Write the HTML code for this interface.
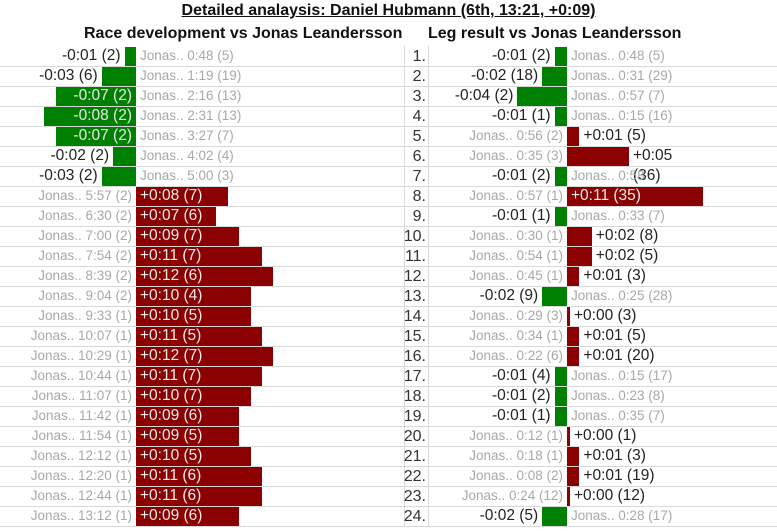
<!DOCTYPE html>
<html><head><meta charset="utf-8">
<style>
body{margin:0;width:777px;height:532px;background:#fff;position:relative;overflow:hidden;font-family:"Liberation Sans",Arial,sans-serif;}
.abs{position:absolute;white-space:nowrap;}
.t{font-weight:bold;color:#111;}
.val{font-size:15.5px;line-height:20px;}
.jn{font-size:13.5px;color:#a8a8a8;line-height:20px;}
</style></head>
<body>
<div class="abs t" style="left:0;width:777px;text-align:center;top:2px;font-size:16px;"><span style="text-decoration:underline">Detailed analaysis: Daniel Hubmann (6th, 13:21, +0:09)</span></div>
<div class="abs t" style="left:84px;top:25px;font-size:16px;">Race development vs Jonas Leandersson</div>
<div class="abs t" style="left:428px;top:25px;font-size:16px;">Leg result vs Jonas Leandersson</div>
<div id="root"></div>
<script>
const leftValues=[-1,-3,-7,-8,-7,-2,-3,8,7,9,11,12,10,10,11,12,11,10,9,9,10,11,11,9];
const leftRanks=[2,6,2,2,2,2,2,7,6,7,7,6,4,5,5,7,7,7,6,5,5,6,6,6];
const leftRef=["0:48 (5)","1:19 (19)","2:16 (13)","2:31 (13)","3:27 (7)","4:02 (4)","5:00 (3)","5:57 (2)","6:30 (2)","7:00 (2)","7:54 (2)","8:39 (2)","9:04 (2)","9:33 (1)","10:07 (1)","10:29 (1)","10:44 (1)","11:07 (1)","11:42 (1)","11:54 (1)","12:12 (1)","12:20 (1)","12:44 (1)","13:12 (1)"];
const rightValues=[-1,-2,-4,-1,1,5,-1,11,-1,2,2,1,-2,0,1,1,-1,-1,-1,0,1,1,0,-2];
const rightRanks=[2,18,2,1,5,36,2,35,1,8,5,3,9,3,5,20,4,2,1,1,3,19,12,5];
const rightRef=["0:48 (5)","0:31 (29)","0:57 (7)","0:15 (16)","0:56 (2)","0:35 (3)","0:58","0:57 (1)","0:33 (7)","0:30 (1)","0:54 (1)","0:45 (1)","0:25 (28)","0:29 (3)","0:34 (1)","0:22 (6)","0:15 (17)","0:23 (8)","0:35 (7)","0:12 (1)","0:18 (1)","0:08 (2)","0:24 (12)","0:28 (17)"];
const wrapFlags=[0,0,0,0,0,1,0,0,0,0,0,0,0,0,0,0,0,0,0,0,0,0,0,0];

const root=document.getElementById('root');
const ROW0=46,RH=20;
function rowY(i){return ROW0+i*RH;}
function fmt(v){const s=v<0?'-':'+';const a=Math.abs(v);return s+'0:'+(a<10?'0':'')+a;}
function add(html,style,cls,name,inter){
  const d=document.createElement('div');
  d.className='abs '+(cls||'');
  d.style.cssText=style;
  d.innerHTML=html;
  
  
  root.appendChild(d);return d;
}
for(let i=1;i<=24;i++){
  add('','left:0;width:777px;height:1px;background:#d8d8d8;top:'+rowY(i)+'px;','','row-separator',false);
}
add('','left:404px;top:46px;width:1px;height:480px;background:#d8d8d8;','','column-divider',false);
add('','left:428px;top:46px;width:1px;height:480px;background:#d8d8d8;','','column-divider',false);

function panel(vals,ranks,refs,zero,scale,prefix){
  for(let i=0;i<vals.length;i++){
    const v=vals[i],y=rowY(i);
    let w=Math.abs(v)*scale; if(w<3)w=3;
    const col=v<0?'#008000':'#8b0000';
    const left=v<0?zero-w:zero;
    add('','left:'+left+'px;top:'+(y+1)+'px;width:'+w+'px;height:19px;background:'+col+';','',prefix+'-bar-'+(i+1),false);
    let label=fmt(v)+' ('+ranks[i]+')';
    const inside=w>70;
    if(v<0){
      if(inside) add(label,'right:'+(777-zero+4)+'px;top:'+y+'px;color:#e8e8e8;','val',prefix+'-value-label',false);
      else add(label,'right:'+(777-left+4)+'px;top:'+y+'px;color:#222;','val',prefix+'-value-label',false);
      add('Jonas.. '+refs[i],'left:'+(zero+4)+'px;top:'+y+'px;','jn',prefix+'-reference-label',false);
    }else{
      if(inside) add(label,'left:'+(zero+4)+'px;top:'+y+'px;color:#eee;','val',prefix+'-value-label',false);
      else if(wrapFlags[i]&&prefix=='right') add(fmt(v)+'<br>('+ranks[i]+')','left:'+(left+w+4)+'px;top:'+y+'px;color:#222;','val',prefix+'-value-label',false);
      else add(label,'left:'+(left+w+4)+'px;top:'+y+'px;color:#222;','val',prefix+'-value-label',false);
      add('Jonas.. '+refs[i],'right:'+(777-zero+4)+'px;top:'+y+'px;','jn',prefix+'-reference-label',false);
    }
  }
}
panel(leftValues,leftRanks,leftRef,136,11.45,'left');
panel(rightValues,rightRanks,rightRef,567,12.4,'right');
for(let i=0;i<24;i++){
  add((i+1)+'.','right:'+(777-426)+'px;top:'+(rowY(i)+1)+'px;color:#333;font-size:16px;line-height:20px;','','leg-number',false);
}
</script>
</body></html>
